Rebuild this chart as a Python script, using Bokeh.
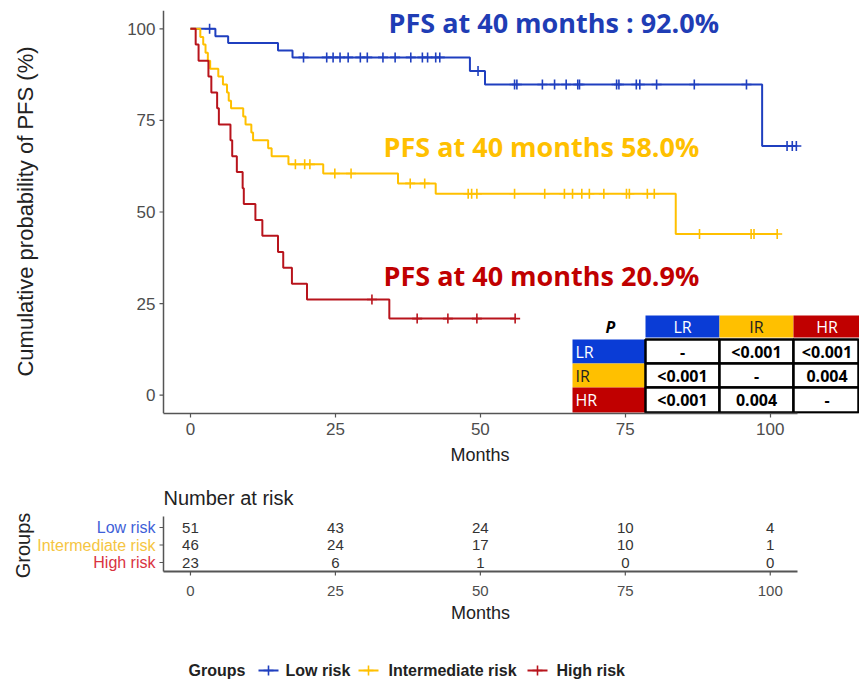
import numpy as np
from bokeh.plotting import figure
from bokeh.layouts import column
from bokeh.models import Range1d, FixedTicker, Title
from bokeh.core.properties import value
from bokeh.embed import file_html
from bokeh.resources import INLINE

# ---------------- data ----------------
GROUPS = ["Low risk", "Intermediate risk", "High risk"]
CURVE_COLORS = ["#1F3FBF", "#FFC000", "#B8141C"]
LABEL_COLORS = ["#3F5FD8", "#F5C542", "#D9333F"]

low_t = [0, 4.3, 6.5, 15.1, 17.6, 48.2, 50.8, 98.6]
low_s = [100, 98.0, 96.1, 94.1, 92.2, 88.5, 84.8, 68.0]
low_end = 104.5
low_cens = [3.3, 19.5, 23.5, 24.6, 25.8, 27.2, 29.3, 30.5, 33.2, 35.3, 38.0, 40.0,
            40.9, 42.3, 43.0, 49.6, 55.9, 56.3, 60.7, 62.8, 64.8, 66.8, 67.1, 73.5,
            73.9, 76.9, 77.5, 80.4, 86.9, 95.9, 102.9, 103.8, 104.5]

int_t = [0, 1.7, 2.2, 2.6, 3.0, 3.4, 4.8, 5.6, 6.3, 6.6, 7.0, 9.1, 9.5, 10.5, 10.8,
         13.4, 14.0, 16.9, 22.9, 35.8, 42.3, 83.7]
int_s = [100, 97.8, 95.7, 93.5, 91.3, 89.1, 87.0, 84.8, 82.6, 80.4, 78.3, 76.1, 73.9,
         71.7, 69.6, 67.4, 65.2, 63.0, 60.5, 57.8, 55.0, 44.0]
int_end = 101.2
int_cens = [18.1, 19.7, 20.6, 24.9, 27.7, 37.9, 40.4, 47.9, 48.5, 49.4, 55.9, 61.1,
            64.5, 65.9, 67.5, 68.8, 71.3, 75.2, 75.7, 78.8, 80.0, 87.8, 96.7, 97.2, 101.2]

high_t = [0, 0.9, 1.4, 3.1, 3.6, 4.6, 4.9, 6.9, 7.2, 8.0, 9.0, 9.2, 11.2, 12.4, 15.1,
          16.0, 17.5, 20.1, 34.3]
high_s = [100, 95.7, 91.3, 87.0, 82.6, 78.3, 73.9, 69.6, 65.2, 60.9, 56.5, 52.2, 47.8,
          43.5, 39.1, 34.8, 30.4, 26.1, 20.9]
high_end = 56.0
high_cens = [31.3, 39.1, 44.4, 49.4, 56.0]

risk_times = [0, 25, 50, 75, 100]
risk_low = [51, 43, 24, 10, 4]
risk_int = [46, 24, 17, 10, 1]
risk_high = [23, 6, 1, 0, 0]

pfs40_text = ["PFS at 40 months : 92.0%", "PFS at 40 months 58.0%", "PFS at 40 months 20.9%"]
pfs40_color = ["#1F3DB5", "#FFC000", "#C00000"]

table_names = ["LR", "IR", "HR"]
table_fill = ["#0A3CD6", "#FFC000", "#C00000"]
table_head_text = ["white", "#222222", "white"]
pvals = [["-", "<0.001", "<0.001"],
         ["<0.001", "-", "0.004"],
         ["<0.001", "0.004", "-"]]

x_ticks = [0, 25, 50, 75, 100]
y_ticks = [0, 25, 50, 75, 100]

# ---------------- layout constants ----------------
W = 859
FRAME_L = 163          # pixel of the panel's left axis line
PANEL_R = 797          # pixel of the panel's right end
XL, XR = -4.65, 104.7
PXM = (PANEL_R - FRAME_L) / (XR - XL)
X_END = XR + (W - PANEL_R) / PXM
X_START = XL - FRAME_L / PXM
MAIN_TOP, MAIN_BOT = 10, 413
YB, YT = -5, 105
PYM = (MAIN_BOT - MAIN_TOP) / (YT - YB)

FONT = "Liberation Sans"
TICK_COLOR = "#4D4D4D"
AXIS_COLOR = "#555555"
TITLE_COLOR = "#222222"


def dx(px):
    return XL + (px - FRAME_L) / PXM


def dy(py):
    return YB + (MAIN_BOT - py) / PYM


def style_axis(ax, size):
    ax.axis_line_color = AXIS_COLOR
    ax.axis_line_width = 1.5
    ax.major_tick_line_color = AXIS_COLOR
    ax.major_tick_line_width = 1.2
    ax.major_tick_out = 4
    ax.major_tick_in = 0
    ax.minor_tick_line_color = None
    ax.major_label_text_font = FONT
    ax.major_label_text_font_size = size
    ax.major_label_text_color = TICK_COLOR


# ---------------- main KM plot ----------------
p = figure(width=W, height=470, x_range=Range1d(X_START, X_END), y_range=Range1d(YB, YT),
           toolbar_location=None, output_backend="svg", y_axis_location=None,
           min_border_left=0, min_border_right=0, min_border_top=MAIN_TOP,
           min_border_bottom=470 - MAIN_BOT)
p.outline_line_color = None
p.grid.visible = False

series = [(low_t, low_s, low_end, low_cens), (int_t, int_s, int_end, int_cens),
          (high_t, high_s, high_end, high_cens)]
for (t, s, end, cens), col in zip(series, CURVE_COLORS):
    xs = list(t) + [end]
    ys = list(s) + [s[-1]]
    p.step(x=xs, y=ys, mode="after", line_color=col, line_width=2)
    idx = np.searchsorted(np.array(t), np.array(cens), side="right") - 1
    cy = [s[i] for i in idx]
    p.scatter(x=cens, y=cy, marker="cross", size=10, line_color=col, line_width=1.6)

style_axis(p.xaxis[0], "17px")
p.xaxis[0].ticker = FixedTicker(ticks=x_ticks)
p.xaxis[0].bounds = (XL, XR)

# y axis drawn with glyphs (frame spans the whole width)
p.segment(x0=[XL], y0=[YB], x1=[XL], y1=[YT], line_color=AXIS_COLOR, line_width=1.5)
p.segment(x0=[XL - 4 / PXM] * len(y_ticks), y0=y_ticks, x1=[XL] * len(y_ticks),
          y1=y_ticks, line_color=AXIS_COLOR, line_width=1.2)
p.text(x=[XL - 8 / PXM] * len(y_ticks), y=y_ticks, text=[str(v) for v in y_ticks],
       text_font=value(FONT), text_font_size="17px", text_color=TICK_COLOR,
       text_align="right", text_baseline="middle")
p.text(x=[X_START + 25 / PXM], y=[dy(211)], text=["Cumulative probability of PFS (%)"],
       angle=np.pi / 2, text_font=value(FONT), text_font_size="22px",
       text_color=TITLE_COLOR, text_align="center", text_baseline="middle")

p.add_layout(Title(text="Months", align="left", offset=450, text_font=FONT,
                   text_font_size="18px", text_font_style="normal",
                   text_color=TITLE_COLOR), "below")

# PFS at 40 months annotations
p.text(x=[dx(388), dx(383), dx(383)], y=[dy(22), dy(146), dy(275)], text=pfs40_text,
       text_color=pfs40_color, text_font=value("Open Sans"), text_font_style="bold",
       text_font_size="27px", text_align="left", text_baseline="middle")

# p-value table
col_edges = [645, 719, 793, 859]
row_edges = [339, 363, 387, 412]
head_top, head_bot = 315, 337
rowhead_l = 572
col_mid = [(645 + 719) / 2, (719 + 793) / 2, (793 + 860) / 2]
row_mid = [(row_edges[i] + row_edges[i + 1]) / 2 for i in range(3)]
p.quad(left=[dx(col_edges[i]) for i in range(3)], right=[dx(col_edges[i + 1]) for i in range(3)],
       top=[dy(head_top)] * 3, bottom=[dy(head_bot)] * 3, fill_color=table_fill, line_color=None)
p.text(x=[dx(m) for m in col_mid], y=[dy((head_top + head_bot) / 2)] * 3, text=table_names,
       text_color=table_head_text, text_font=value("Open Sans"), text_font_size="16px",
       text_align="center", text_baseline="middle")
p.text(x=[dx(610)], y=[dy((head_top + head_bot) / 2)], text=["P"], text_color="black",
       text_font=value("Open Sans"), text_font_size="16px", text_font_style="bold italic",
       text_align="center", text_baseline="middle")
p.quad(left=[dx(rowhead_l)] * 3, right=[dx(col_edges[0])] * 3,
       top=[dy(row_edges[i]) for i in range(3)],
       bottom=[dy(row_edges[i + 1]) for i in range(3)],
       fill_color=table_fill, line_color=None)
p.text(x=[dx(rowhead_l + 3)] * 3, y=[dy(m) for m in row_mid], text=table_names,
       text_color=table_head_text, text_font=value("Open Sans"), text_font_size="16px",
       text_align="left", text_baseline="middle")
cl, cr, ct, cb, ctext, cx, cyv = [], [], [], [], [], [], []
for ri in range(3):
    for c in range(3):
        cl.append(dx(col_edges[c]))
        cr.append(dx(min(col_edges[c + 1], 858)))
        ct.append(dy(row_edges[ri]))
        cb.append(dy(row_edges[ri + 1]))
        ctext.append(pvals[ri][c])
        cx.append(dx(col_mid[c]))
        cyv.append(dy(row_mid[ri]))
p.quad(left=cl, right=cr, top=ct, bottom=cb, fill_color="white", line_color="black",
       line_width=2.5)
p.text(x=cx, y=cyv, text=ctext, text_color="black", text_font=value("Open Sans"),
       text_font_style="bold", text_font_size="16px", text_align="center",
       text_baseline="middle")

# ---------------- risk table (frame covers the whole canvas) ----------------
R_TOP = 470
R_H = 160
ROW = 17.5
row_px = [527, 545, 562]
R_AXIS = 571


def ry(py):
    return 1 + (row_px[2] - py) / ROW


r = figure(width=W, height=R_H, x_range=Range1d(X_START, X_END),
           y_range=Range1d(ry(R_TOP + R_H), ry(R_TOP)),
           toolbar_location=None, output_backend="svg", x_axis_location=None,
           y_axis_location=None, min_border_left=0, min_border_right=0,
           min_border_top=0, min_border_bottom=0)
r.outline_line_color = None
r.grid.visible = False

rows_y = [3, 2, 1]
# axes
r.segment(x0=[XL], y0=[ry(516)], x1=[XL], y1=[ry(R_AXIS)], line_color=AXIS_COLOR,
          line_width=1.5)
r.segment(x0=[XL - 4 / PXM] * 3, y0=rows_y, x1=[XL] * 3, y1=rows_y,
          line_color=AXIS_COLOR, line_width=1.2)
r.segment(x0=[XL], y0=[ry(R_AXIS)], x1=[XR], y1=[ry(R_AXIS)], line_color=AXIS_COLOR,
          line_width=1.8)
r.segment(x0=x_ticks, y0=[ry(R_AXIS)] * len(x_ticks), x1=x_ticks,
          y1=[ry(R_AXIS + 4)] * len(x_ticks), line_color=AXIS_COLOR, line_width=1.2)
r.text(x=x_ticks, y=[ry(590)] * len(x_ticks), text=[str(v) for v in x_ticks],
       text_font=value(FONT), text_font_size="15px", text_color=TICK_COLOR,
       text_align="center", text_baseline="middle")
r.text(x=[dx(480)], y=[ry(612)], text=["Months"], text_font=value(FONT),
       text_font_size="18px", text_color=TITLE_COLOR, text_align="center",
       text_baseline="middle")

for vals, yy in zip([risk_low, risk_int, risk_high], rows_y):
    r.text(x=risk_times, y=[yy] * len(risk_times), text=[str(v) for v in vals],
           text_font=value(FONT), text_font_size="15px", text_color="#333333",
           text_align="center", text_baseline="middle")
r.text(x=[XL - 8 / PXM] * 3, y=rows_y, text=GROUPS, text_color=LABEL_COLORS,
       text_font=value(FONT), text_font_size="16px", text_align="right",
       text_baseline="middle")
r.text(x=[XL], y=[ry(497)], text=["Number at risk"], text_font=value(FONT),
       text_font_size="20px", text_color=TITLE_COLOR, text_align="left",
       text_baseline="middle")
r.text(x=[X_START + 22 / PXM], y=[ry(545)], text=["Groups"], angle=np.pi / 2,
       text_font=value(FONT), text_font_size="20px", text_color=TITLE_COLOR,
       text_align="center", text_baseline="middle")

# ---------------- legend ----------------
L_H = 682 - R_TOP - R_H
lg = figure(width=W, height=L_H, x_range=Range1d(0, W), y_range=Range1d(L_H, 0),
            toolbar_location=None, output_backend="svg", x_axis_location=None,
            y_axis_location=None, min_border_left=0, min_border_right=0,
            min_border_top=0, min_border_bottom=0)
lg.outline_line_color = None
lg.grid.visible = False
ly = 670 - (682 - L_H)
lg.text(x=[188], y=[ly], text=["Groups"], text_font=value(FONT), text_font_size="16px",
        text_font_style="bold", text_color=TITLE_COLOR, text_align="left",
        text_baseline="middle")
key_l = [258, 358, 527]
label_l = [285, 388, 556]
lg.segment(x0=key_l, y0=[ly] * 3, x1=[k + 20 for k in key_l], y1=[ly] * 3,
           line_color=CURVE_COLORS, line_width=2)
lg.scatter(x=[k + 10 for k in key_l], y=[ly] * 3, marker="cross", size=10,
           line_color=CURVE_COLORS, line_width=1.6)
lg.text(x=label_l, y=[ly] * 3, text=GROUPS, text_font=value(FONT), text_font_size="16px",
        text_font_style="bold", text_color=TITLE_COLOR, text_align="left",
        text_baseline="middle")

layout = column(p, r, lg, spacing=0)
open("out.html", "w").write(file_html(layout, INLINE))
